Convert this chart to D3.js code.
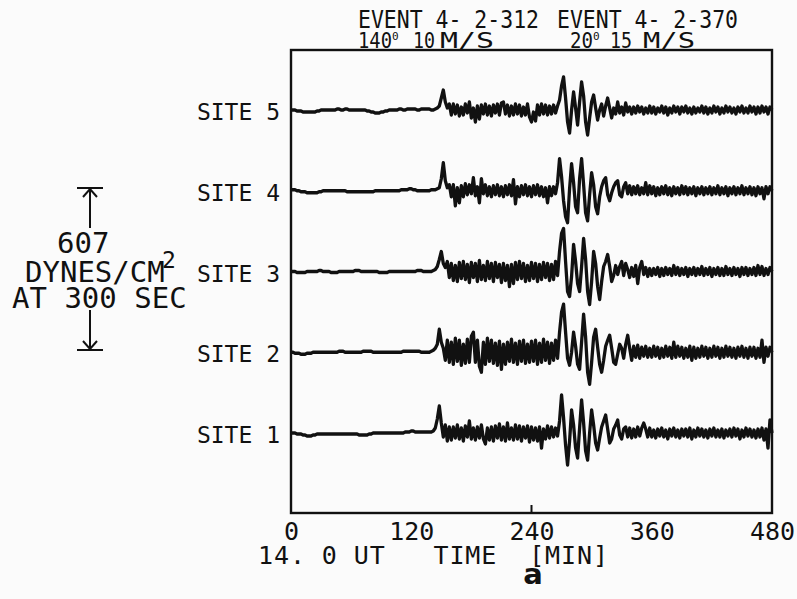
<!DOCTYPE html>
<html><head><meta charset="utf-8">
<script src="https://cdn.jsdelivr.net/npm/d3@7"></script>
<style>body{margin:0;background:#fbfbfb}svg{display:block}</style>
</head><body><svg id="c" width="797" height="599"></svg>
<script>
// ---- data ----
const sites = ["SITE 1", "SITE 2", "SITE 3", "SITE 4", "SITE 5"];
const timeStart = 0;      // minutes after 14.0 UT
const timeStep = 2;       // minutes between samples
const xTicks = [0, 120, 240, 360, 480];
const innerTicks = [240];
const unitDyn = 3.75;     // dyn/cm^2 per data count
const calValue = 607;     // dyn/cm^2 scale bar
const titles1 = ["EVENT 4- 2-312", "EVENT 4- 2-370"];
const titles2 = [["140", "0", "10", "M/S"], ["20", "0", "15", "M/S"]];

const site1 = [
0,0,0,-1,-1,-1,-2,-2,-3,-3,
-3,-2,-2,-1,-1,-1,-1,-1,-1,-1,
-1,-1,-1,-1,-1,-1,-1,-1,-1,-1,
-1,-1,-1,-1,-2,-2,-2,-2,-2,-1,
-1,0,0,0,0,0,0,0,0,0,
0,0,0,0,0,0,0,1,1,1,
2,2,1,1,1,1,1,1,1,1,
1,2,5,14,27,10,-4,8,-8,6,
-7,6,-5,8,-6,5,-8,7,-4,12,
-6,5,-7,6,-5,8,-6,-11,5,-7,
6,-8,7,-5,9,-7,6,-8,10,-6,
5,-7,8,-6,7,-8,6,-5,7,-9,
6,-7,5,-8,6,-15,4,-6,7,-5,
6,-4,5,-3,12,38,15,-12,-32,-8,
23,8,-15,-25,5,33,10,-18,-27,0,
23,8,-10,-17,-5,6,12,18,4,-10,
-6,4,8,13,-2,-6,4,6,-4,5,
-5,4,-4,6,-3,5,10,4,-4,5,
-4,3,-5,4,-3,5,-4,3,-6,4,
-3,5,-4,3,-5,4,-3,4,-4,5,
-6,3,-4,5,-3,4,-4,3,-5,4,
-3,5,-4,3,-4,4,-5,3,-3,4,
-4,5,-3,4,-6,3,-4,5,-3,4,
-4,3,-5,4,-4,5,-7,4,-15,13,
0];

const site2 = [
0,0,-1,-1,-1,-2,-2,-2,-1,-1,
-1,0,0,0,0,0,0,0,0,0,
0,0,0,0,1,1,1,0,0,0,
0,0,0,0,0,0,1,1,1,1,
1,0,0,0,0,0,0,0,0,0,
0,0,0,0,0,0,1,1,1,1,
1,1,1,1,1,0,0,0,0,0,
1,2,4,8,23,10,4,-8,12,-10,
10,-12,14,-9,12,-13,8,-11,13,-10,
16,20,-10,12,-14,-20,10,-12,14,-9,
12,-11,9,-13,11,-17,8,-12,10,-9,
13,-10,9,-12,11,-9,12,-11,8,-10,
11,-9,12,-12,9,-10,13,-8,10,-11,
9,-8,12,-6,20,40,48,20,-6,-13,
0,20,6,-12,-17,10,38,15,-20,-32,
-10,15,23,5,-12,-20,-8,6,12,17,
4,-10,-12,-2,8,4,-6,8,17,4,
-8,6,-5,7,-6,5,-4,6,-5,4,
-5,6,-4,5,-6,4,-5,6,-4,5,
-6,10,-5,6,-4,5,-6,4,-5,6,
-8,5,-6,4,-5,6,-4,5,-6,4,
-5,6,-4,5,-6,4,-5,6,-4,5,
-5,4,-6,5,-4,6,-5,4,-6,5,
-4,5,-6,4,-5,12,-10,5,-4,5,
0];

const site3 = [
0,0,0,-1,-1,-1,-1,-1,0,0,
0,0,0,0,1,1,0,0,0,0,
-1,-1,-1,-1,0,0,0,0,0,0,
0,0,1,1,1,0,0,0,0,0,
0,0,0,0,-1,-1,-1,-1,-1,0,
0,0,0,0,0,0,0,0,0,0,
0,0,0,1,1,1,0,0,0,0,
0,1,2,5,12,20,8,4,10,-6,
8,-9,6,-10,9,-7,10,-8,7,-11,
9,-6,8,-10,11,-8,6,-9,10,-7,
8,-10,9,-6,7,-11,8,-9,6,-15,
7,-12,9,-8,10,-7,8,-10,6,-9,
9,-7,8,-10,7,-8,9,-6,8,-9,
7,-8,10,-4,20,38,43,10,-20,-25,
-5,27,10,-12,-20,5,33,12,-20,-33,
-10,20,8,-15,-28,-10,5,10,17,5,
-10,-4,6,-3,5,10,-4,8,2,-6,
4,-5,6,-12,4,10,-3,4,-5,3,
-4,3,-3,4,-5,3,-4,4,-3,3,
-4,6,-3,4,-4,3,-3,4,-5,3,
-3,4,-4,3,-3,5,-4,3,-3,4,
-5,3,-3,4,-4,3,-4,5,-3,3,
-4,4,-3,3,-5,4,-3,4,-4,3,
-3,4,-4,6,-3,5,-4,3,-3,4,
0];

const site4 = [
1,1,1,0,0,-1,-1,-1,-2,-2,
-2,-2,-2,-2,-1,-1,0,0,0,0,
0,0,0,0,0,0,0,0,-1,-1,
-1,-1,-1,-1,-1,-1,-1,-1,-1,-1,
-1,-1,0,0,0,0,0,0,0,0,
0,0,0,0,0,1,1,1,1,2,
2,1,1,0,0,0,0,0,0,0,
1,1,1,2,3,12,28,10,3,6,
-6,6,-15,3,-12,5,-6,7,-4,6,
-3,13,-5,4,-12,12,-3,6,-5,4,
-6,5,-4,6,-5,4,-6,5,-4,6,
-5,11,-13,4,-6,5,-4,6,-5,4,
-6,5,-4,6,-5,4,-6,3,-12,4,
-5,4,-3,8,32,14,-10,-26,-32,2,
27,8,-16,-22,12,32,6,-22,-30,-4,
18,6,-16,-23,-6,4,10,13,-4,-10,
-2,4,8,10,-4,-6,4,8,-3,5,
-4,4,-3,5,-4,3,-3,8,-4,5,
-3,4,-5,3,-4,4,-3,5,-4,3,
-5,4,-3,3,-4,5,-3,4,-4,3,
-3,4,-5,3,-3,4,-4,3,-3,4,
-4,3,-3,5,-4,3,-3,4,-5,3,
-3,4,-4,3,-3,5,-4,3,-3,4,
-4,3,-5,4,-3,3,-8,4,-3,4,
0];

const site5 = [
0,0,0,-1,-1,-1,-2,-2,-2,-2,
-2,-2,-2,-1,-1,0,0,0,0,0,
0,0,0,1,1,0,0,1,1,0,
0,0,0,0,0,0,0,0,-1,-1,
-2,-2,-3,-3,-3,-2,-2,-1,-1,0,
0,0,0,0,1,1,0,0,1,1,
1,1,1,0,0,1,1,1,1,1,
0,0,1,2,4,12,20,8,2,6,
-5,6,-4,5,-6,3,-5,6,-3,8,
-8,2,-12,4,-9,5,-4,6,-5,4,
-6,5,-3,6,-5,7,8,-4,5,-6,
4,-5,6,-4,5,-6,3,-5,6,-7,
-12,-2,-11,5,-5,6,-4,5,-5,4,
-4,5,-3,4,10,24,33,12,-12,-23,
0,18,2,-15,8,28,14,-12,-25,-8,
8,15,2,-10,0,6,-6,4,12,2,
-8,2,-4,8,-3,3,-5,7,-2,3,
-4,3,-3,4,-2,3,-4,2,-3,4,
-3,3,-4,2,-2,4,-3,3,-5,2,
-3,4,-2,3,-4,3,-2,4,-3,2,
-4,3,-3,2,-2,4,-3,3,-4,2,
-3,4,-2,3,-4,2,-3,4,-2,3,
-3,2,-4,3,-2,4,-3,2,-3,4,
-2,3,-4,3,-3,4,-2,3,-4,3,
0];

const traces = [site1, site2, site3, site4, site5];

// ---- drawing ----
const svg = d3.select("#c");
const ink = "#111";
const mono = "'DejaVu Sans Mono', monospace";

const x = d3.scaleLinear().domain([0, 480]).range([291, 772]);
const yBase = d3.scalePoint().domain(sites).range([433, 110]);
const amp = d3.scaleLinear().domain([0, calValue]).range([0, 162]);

// frame
svg.append("rect")
  .attr("x", x(0)).attr("y", 50)
  .attr("width", x(480) - x(0)).attr("height", 463)
  .attr("fill", "none").attr("stroke", ink).attr("stroke-width", 2.4);

// traces
traces.forEach((vals, k) => {
  const site = sites[k];
  const line = d3.line()
    .x((d, i) => x(timeStart + i * timeStep))
    .y(d => yBase(site) - amp(d * unitDyn));
  svg.append("path").datum(vals)
    .attr("d", line)
    .attr("fill", "none").attr("stroke", ink)
    .attr("stroke-width", 3.3).attr("stroke-linejoin", "round");
});

// site labels
svg.selectAll("text.site").data(sites).join("text")
  .attr("class", "site")
  .attr("x", 280).attr("y", d => yBase(d) + 10)
  .attr("text-anchor", "end")
  .attr("font-family", mono).attr("font-size", 23).attr("fill", ink)
  .text(d => d);

// x axis
const xAxis = d3.axisBottom(x).tickValues(xTicks).tickSize(0).tickPadding(9)
  .tickFormat(d3.format("d"));
const gx = svg.append("g").attr("transform", "translate(0,513)").call(xAxis);
gx.select(".domain").remove();
gx.selectAll("text").attr("font-family", mono).attr("font-size", 25).attr("fill", ink);

svg.selectAll("line.itick").data(innerTicks).join("line")
  .attr("class", "itick")
  .attr("x1", d => x(d)).attr("x2", d => x(d))
  .attr("y1", 513).attr("y2", 505)
  .attr("stroke", ink).attr("stroke-width", 2);

svg.append("text").attr("x", 258).attr("y", 564)
  .attr("font-family", mono).attr("font-size", 25).attr("fill", ink)
  .attr("textLength", 350).attr("lengthAdjust", "spacing")
  .style("white-space", "pre")
  .text("14. 0 UT   TIME  [MIN]");

svg.append("text").attr("x", 533).attr("y", 584)
  .attr("text-anchor", "middle")
  .attr("font-family", "'DejaVu Sans', sans-serif").attr("font-weight", "bold")
  .attr("font-size", 29).attr("fill", ink).text("a");

// titles
const t1x = [358, 557];
titles1.forEach((t, i) => {
  svg.append("text").attr("x", t1x[i]).attr("y", 28)
    .attr("font-family", mono).attr("font-size", 24).attr("fill", ink)
    .attr("textLength", 181).attr("lengthAdjust", "spacingAndGlyphs")
    .style("white-space", "pre").text(t);
});
const t2pos = [[358, 392, 413, 440], [570, 593, 610, 643]];
const t2len = [[34, 0, 22, 54], [23, 0, 22, 52]];
titles2.forEach((parts, i) => {
  const txt = svg.append("text").attr("y", 47.5)
    .attr("font-family", mono).attr("font-size", 21).attr("fill", ink);
  parts.forEach((p, j) => {
    const isSup = j === 1;
    const ts = txt.append("tspan").attr("x", t2pos[i][j])
      .attr("y", isSup ? 39.5 : 47.5)
      .attr("font-size", isSup ? 11 : 21)
      .text(p);
    if (!isSup) ts.attr("textLength", t2len[i][j]).attr("lengthAdjust", "spacingAndGlyphs");
  });
});

// calibration bar
const calTop = 269 - amp(calValue) / 2, calBot = 269 + amp(calValue) / 2;
const cx = 90;
const g = svg.append("g").attr("stroke", ink).attr("stroke-width", 2).attr("fill", "none");
g.append("line").attr("x1", cx - 13).attr("x2", cx + 13).attr("y1", calTop).attr("y2", calTop);
g.append("line").attr("x1", cx).attr("x2", cx).attr("y1", calTop).attr("y2", calTop + 40);
g.append("path").attr("d", `M${cx - 7},${calTop + 9}L${cx},${calTop + 1}L${cx + 7},${calTop + 9}`);
g.append("line").attr("x1", cx - 13).attr("x2", cx + 13).attr("y1", calBot).attr("y2", calBot);
g.append("line").attr("x1", cx).attr("x2", cx).attr("y1", calBot).attr("y2", calBot - 40);
g.append("path").attr("d", `M${cx - 7},${calBot - 9}L${cx},${calBot - 1}L${cx + 7},${calBot - 9}`);

const calText = [[String(calValue), 57, 253], ["DYNES/CM", 25, 282], ["AT 300 SEC", 12, 308]];
calText.forEach(([t, tx, ty]) => {
  svg.append("text").attr("x", tx).attr("y", ty)
    .attr("font-family", mono).attr("font-size", 29).attr("fill", ink)
    .style("white-space", "pre").text(t);
});
svg.append("text").attr("x", 162).attr("y", 268)
  .attr("font-family", mono).attr("font-size", 23).attr("fill", ink).text("2");
</script>
</body></html>
